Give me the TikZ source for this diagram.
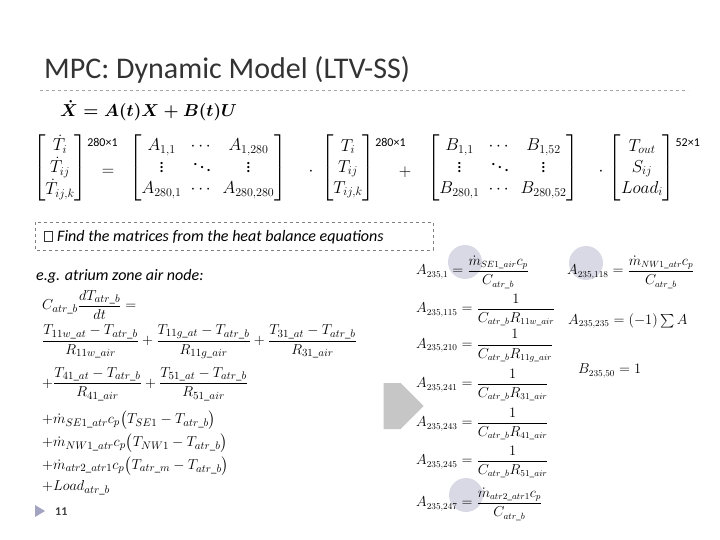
\documentclass[tikz,border=0pt]{standalone}
\usepackage{amsmath,amssymb}
\usepackage{fontspec}
\setmainfont{Carlito}
\usetikzlibrary{shapes.arrows}
\begin{document}
\begin{tikzpicture}[x=1pt,y=-1pt,
  eq/.style={anchor=west,inner sep=0pt,font=\fontsize{15.5}{18}\selectfont},
  req/.style={anchor=west,inner sep=0pt,font=\fontsize{13.5}{15}\selectfont},
  mx/.style={inner sep=0pt,font=\fontsize{18.5}{21}\selectfont},
  sup/.style={inner sep=0pt,font=\fontsize{12}{12}\selectfont},
  blob/.style={fill=blue!20!gray!35,draw=none,opacity=0.7}]
\useasboundingbox (0,0) rectangle (720,540);
\fill[white] (0,0) rectangle (720,540);
\node[anchor=base west,inner sep=0pt,font=\fontsize{30}{34}\selectfont,text=black!80] (title) at (44,79) {MPC: Dynamic Model (LTV-SS)};
\coordinate (l1) at (40,90); \coordinate (l2) at (688,90);
\draw[gray!70,dashed] (l1) -- (l2);
\node[eq,font=\fontsize{17}{19}\selectfont] (xdot) at (60,111) {$\boldsymbol{\dot X = A(t)X + B(t)U}$};
% matrix equation
\node[mx] (lhs) at (60,168) {$\setlength\arraycolsep{2pt}\begin{bmatrix}\dot T_i\\ \dot T_{ij}\\ \dot T_{ij,k}\end{bmatrix}$};
\node[sup,anchor=west] (s1) at (lhs.north east) [yshift=-8pt] {280×1};
\node[mx] (eqs) at (108,172) {$=$};
\node[mx] (amat) at (208,168) {$\setlength\arraycolsep{4.5pt}\begin{bmatrix}A_{1,1}&\cdots&A_{1,280}\\ \vdots&\ddots&\vdots\\ A_{280,1}&\cdots&A_{280,280}\end{bmatrix}$};
\node[mx] (d1) at (311,172) {$\cdot$};
\node[mx] (xv) at (348,168) {$\setlength\arraycolsep{2pt}\begin{bmatrix}T_i\\ T_{ij}\\ T_{ij,k}\end{bmatrix}$};
\node[sup,anchor=west] (s2) at (xv.north east) [yshift=-8pt] {280×1};
\node[mx] (pl) at (405,172) {$+$};
\node[mx] (bmat) at (503,168) {$\setlength\arraycolsep{4.5pt}\begin{bmatrix}B_{1,1}&\cdots&B_{1,52}\\ \vdots&\ddots&\vdots\\ B_{280,1}&\cdots&B_{280,52}\end{bmatrix}$};
\node[mx] (d2) at (601,172) {$\cdot$};
\node[mx] (uv) at (642,168) {$\setlength\arraycolsep{2pt}\begin{bmatrix}T_{out}\\ S_{ij}\\ Load_i\end{bmatrix}$};
\node[sup,anchor=west] (s3) at (uv.north east) [yshift=-8pt] {52×1};
\draw[gray,dashed] (35,222) rectangle (433,250);
\draw[black!80,line width=0.8pt] (44,231) rectangle (52,241);
\node[anchor=west,inner sep=0pt,font=\fontsize{16}{18}\selectfont\itshape] (find) at (57,237) {Find the matrices from the heat balance equations};
\node[anchor=west,inner sep=0pt,font=\fontsize{16}{18}\selectfont\itshape] (eg) at (36,276) {e.g. atrium zone air node:};
% left equations
\node[eq] (e1) at (42,305) {$C_{atr\_b}\dfrac{dT_{atr\_b}}{dt}=$};
\node[eq] (e2) at (42,342) {$\dfrac{T_{11w\_at}-T_{atr\_b}}{R_{11w\_air}}+\dfrac{T_{11g\_at}-T_{atr\_b}}{R_{11g\_air}}+\dfrac{T_{31\_at}-T_{atr\_b}}{R_{31\_air}}$};
\node[eq] (e3) at (42,384) {$+\dfrac{T_{41\_at}-T_{atr\_b}}{R_{41\_air}}+\dfrac{T_{51\_at}-T_{atr\_b}}{R_{51\_air}}$};
\node[eq] (e4) at (42,420) {$+\dot m_{SE1\_atr}c_p\bigl(T_{SE1}-T_{atr\_b}\bigr)$};
\node[eq] (e5) at (42,443) {$+\dot m_{NW1\_atr}c_p\bigl(T_{NW1}-T_{atr\_b}\bigr)$};
\node[eq] (e6) at (42,466) {$+\dot m_{atr2\_atr1}c_p\bigl(T_{atr\_m}-T_{atr\_b}\bigr)$};
\node[eq] (e7) at (42,488) {$+Load_{atr\_b}$};
\fill[blue!20!gray!60] (35,505) -- (45,511) -- (35,517) -- cycle;
\node[anchor=west,inner sep=0pt,font=\fontsize{12}{14}\selectfont\bfseries,text=black!75] (pg) at (55,512) {11};
% arrow
\node[single arrow,fill=gray!45,draw=none,minimum height=40pt,minimum width=46pt,single arrow head extend=0pt,inner sep=0pt] (arr) at (392,406) {};
% blobs
\fill[blob] (465,262) circle (17);
\fill[blob] (586,263) circle (17);
\fill[blob] (466,495) circle (17);
% right equations
\node[req] (r1) at (416,272) {$A_{235,1}=\dfrac{\dot m_{SE1\_air}c_p}{C_{atr\_b}}$};
\node[req] (r2) at (416,310) {$A_{235,115}=\dfrac{1}{C_{atr\_b}R_{11w\_air}}$};
\node[req] (r3) at (416,346) {$A_{235,210}=\dfrac{1}{C_{atr\_b}R_{11g\_air}}$};
\node[req] (r4) at (416,385) {$A_{235,241}=\dfrac{1}{C_{atr\_b}R_{31\_air}}$};
\node[req] (r5) at (416,424) {$A_{235,243}=\dfrac{1}{C_{atr\_b}R_{41\_air}}$};
\node[req] (r6) at (416,462) {$A_{235,245}=\dfrac{1}{C_{atr\_b}R_{51\_air}}$};
\node[req] (r7) at (416,504) {$A_{235,247}=\dfrac{\dot m_{atr2\_atr1}c_p}{C_{atr\_b}}$};
\node[req] (r8) at (567,272) {$A_{235,118}=\dfrac{\dot m_{NW1\_atr}c_p}{C_{atr\_b}}$};
\node[req] (r9) at (568,321) {$A_{235,235}=(-1)\sum A$};
\node[req] (r10) at (578,371) {$B_{235,50}=1$};
\end{tikzpicture}
\end{document}
